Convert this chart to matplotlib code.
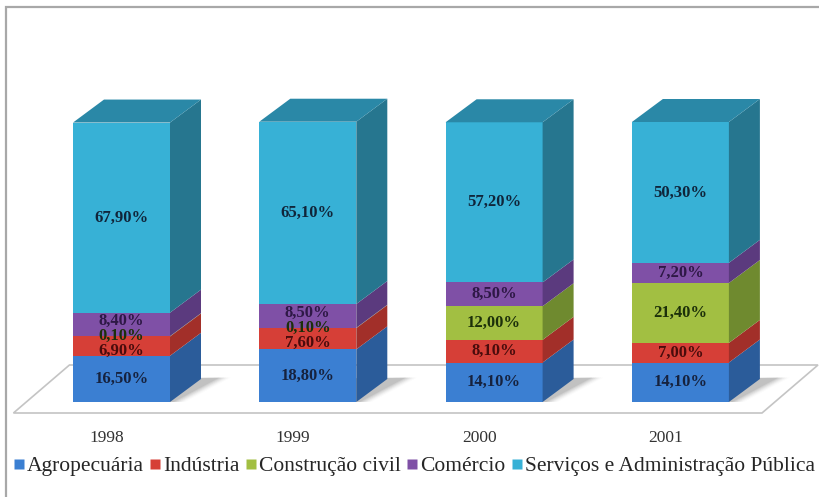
import matplotlib
matplotlib.use("Agg")
import matplotlib.pyplot as plt
from matplotlib.patches import Polygon, Rectangle
from matplotlib.lines import Line2D
import numpy as np

plt.rcParams["font.family"] = ["Liberation Serif", "DejaVu Serif"]

# Participação dos setores (%) por ano
anos = ["1998", "1999", "2000", "2001"]
setores = ["Agropecuária", "Indústria", "Construção civil", "Comércio",
           "Serviços e Administração Pública"]
agropecuaria = [16.5, 18.8, 14.1, 14.1]
industria = [6.9, 7.6, 8.1, 7.0]
construcao = [0.1, 0.1, 12.0, 21.4]
comercio = [8.4, 8.5, 8.5, 7.2]
servicos = [67.9, 65.1, 57.2, 50.3]
series = [agropecuaria, industria, construcao, comercio, servicos]

# front / side / label colours for each sector
front = ["#3b7fd2", "#d63f37", "#a2bf42", "#7f50a6", "#37b1d6"]
side = ["#2b5c9a", "#a22f29", "#6f8a2f", "#5b3a7e", "#26768f"]
lbl = ["#16223e", "#4a0c0c", "#1c300a", "#2e1846", "#10253a"]
top_cyan = "#2a88a7"

W, H = 819, 497
fig = plt.figure(figsize=(W / 100, H / 100), dpi=100)
ax = fig.add_axes([0, 0, 1, 1])

# pixel layout of the category/value axes
px_x0, px_step = 121.5, 186.3        # centre of first bar, spacing
px_base, px_per = 402.0, 2.8         # y pixel of 0 %, pixels per %
ax.set_xlim((0 - px_x0) / px_step, (W - px_x0) / px_step)
ax.set_ylim((px_base - H) / px_per, px_base / px_per)
ax.axis("off")

bw = 97 / px_step                    # bar width
ddx, ddy = 31 / px_step, 23 / px_per  # depth of the 3-D bars
n = len(anos)

# floor of the 3-D plot
f_front, f_back = -11 / px_per, 37 / px_per
f_left, f_right = -0.5 - 0.08, n - 0.5 - 0.062
f_skew = 56 / px_step
ax.add_patch(Polygon([(f_left, f_front), (f_right, f_front),
                      (f_right + f_skew, f_back), (f_left + f_skew, f_back)],
                     closed=True, facecolor="white", edgecolor="#c4c4c4",
                     lw=1.2, zorder=1))

# soft shadows cast on the floor
for i in range(n):
    x1 = i + bw / 2
    for k, a in enumerate(np.linspace(0.10, 0.02, 6)):
        s = 0.02 + k * 0.012
        ax.add_patch(Polygon([(i - bw / 2 + 0.05, 0), (x1 + s, 0),
                              (x1 + ddx + s + 0.08, ddy + 0.5),
                              (i - bw / 2 + ddx, ddy)],
                             closed=True, facecolor="#404040", alpha=a,
                             lw=0, zorder=1.5))


def spread(centres, gap):
    pos = list(centres)
    for _ in range(50):
        moved = False
        for j in range(len(pos) - 1):
            d = pos[j + 1] - pos[j]
            if d < gap - 1e-6:
                push = (gap - d) / 2
                pos[j] -= push
                pos[j + 1] += push
                moved = True
        if not moved:
            break
    return pos


for i in range(n):
    x0, x1 = i - bw / 2, i + bw / 2
    bottom = 0.0
    centres = []
    for s, vals in enumerate(series):
        v = vals[i]
        y0, y1 = bottom, bottom + v
        ax.add_patch(Polygon([(x0, y0), (x1, y0), (x1, y1), (x0, y1)],
                             closed=True, facecolor=front[s], edgecolor="none",
                             zorder=3))
        ax.add_patch(Polygon([(x1, y0), (x1 + ddx, y0 + ddy),
                              (x1 + ddx, y1 + ddy), (x1, y1)],
                             closed=True, facecolor=side[s], edgecolor="none",
                             zorder=3))
        centres.append((y0 + y1) / 2)
        bottom = y1
    ax.add_patch(Polygon([(x0, bottom), (x0 + ddx, bottom + ddy),
                          (x1 + ddx, bottom + ddy), (x1, bottom)],
                         closed=True, facecolor=top_cyan, edgecolor="none",
                         zorder=3))
    ypos = spread(centres, 15 / px_per)
    for s, vals in enumerate(series):
        txt = f"{vals[i]:.2f}%".replace(".", ",")
        ax.text(i, ypos[s], txt, ha="center", va="center",
                fontsize=12, fontweight="bold",
                color=lbl[s], zorder=5)
    ax.text(i - 15 / px_step, -36 / px_per, anos[i], ha="center",
            va="center", fontsize=12.5, color="#333333", zorder=5)

# chart frame
fig.patches.append(Rectangle((6 / W, -0.1), 1.2, (H - 7) / H + 0.1,
                             transform=fig.transFigure, fill=False,
                             edgecolor="#a8a8a8", lw=1.6, zorder=0))

handles = [Line2D([], [], marker="s", ls="none", markersize=7,
                  markerfacecolor=front[s], markeredgecolor="none")
           for s in range(len(setores))]
fig.legend(handles, setores, loc="center left",
           bbox_to_anchor=(14 / W, 1 - 466 / H), ncol=5, frameon=False,
           fontsize=15.5, handletextpad=0.15, columnspacing=0.3,
           handlelength=0.45, borderaxespad=0, borderpad=0,
           labelcolor="#262626")

fig.savefig("out.png", dpi=100)
